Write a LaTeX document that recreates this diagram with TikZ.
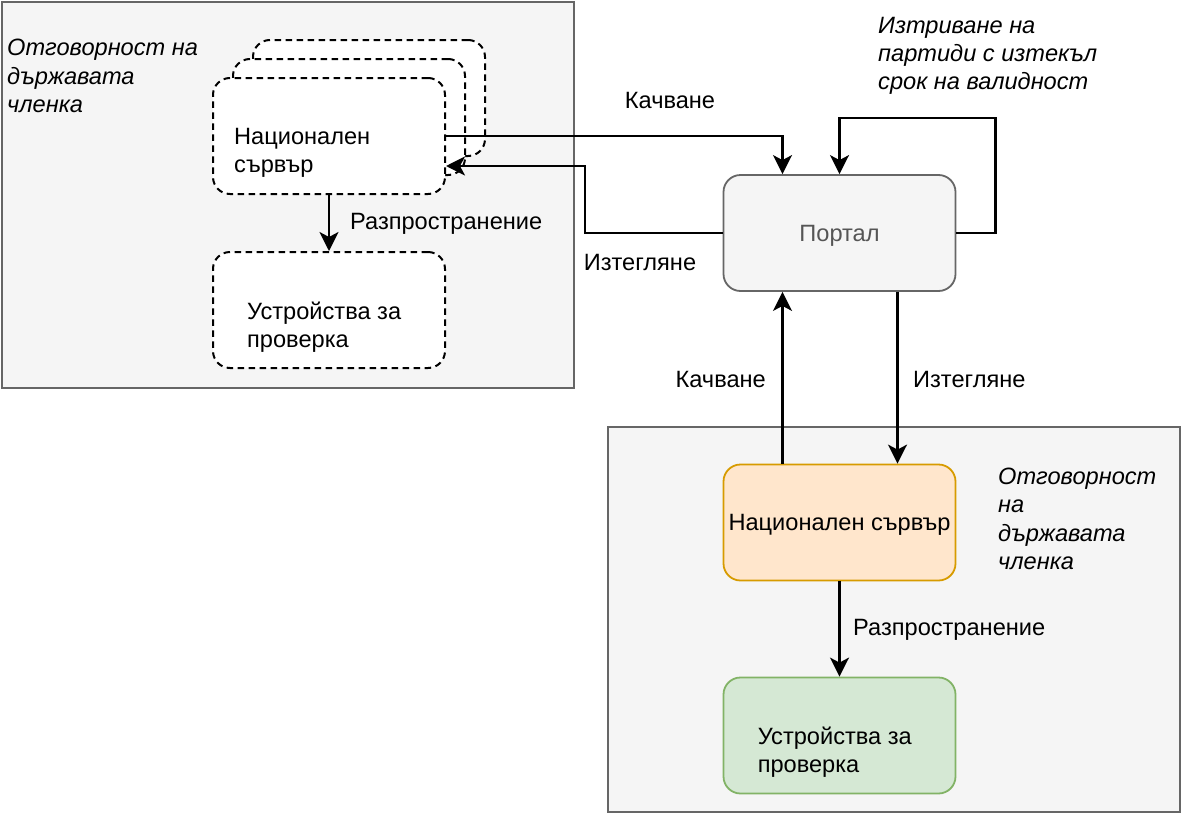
\documentclass[tikz,border=0pt]{standalone}
\usepackage{fontspec}
\setmainfont{Liberation Sans}
\usetikzlibrary{arrows.meta}

\definecolor{areafill}{HTML}{F5F5F5}
\definecolor{arealine}{HTML}{666666}
\definecolor{portaltxt}{HTML}{555555}
\definecolor{natfill}{HTML}{FFE6CC}
\definecolor{natline}{HTML}{D79B00}
\definecolor{devfill}{HTML}{D5E8D4}
\definecolor{devline}{HTML}{82B366}

\begin{document}
\begin{tikzpicture}[
  x=1pt, y=-1pt,
  every node/.style={font=\fontsize{23.6}{28.3}\selectfont},
  box/.style={rectangle, rounded corners=17pt, line width=1.8pt, minimum width=232pt, minimum height=116pt, inner sep=0pt, align=left},
  dbox/.style={box, draw=black, fill=white, line width=2pt, dash pattern=on 6.5pt off 4.5pt},
  area/.style={rectangle, draw=arealine, fill=areafill, line width=1.8pt, inner sep=0pt, anchor=north west},
  lbl/.style={inner sep=0pt, align=left},
  intxt/.style={lbl, anchor=west},
  note/.style={lbl, font=\fontsize{23.6}{28.3}\selectfont\itshape},
  arr/.style={line width=2.2pt, -{Stealth[length=19pt, width=19pt, inset=5pt]}}
]
\useasboundingbox (0,0) rectangle (1181,814);

% Areas
\node[area, minimum width=572pt, minimum height=386pt] (areaL) at (1,1) {};
\node[area, minimum width=572pt, minimum height=385pt] (areaR) at (607,426) {};

% Nodes
\node[dbox] (back) at (369,98) {};
\node[dbox] (mid)  at (349,117) {};
\node[dbox] (nsrv) at (329,136) {};
\node[intxt] (nsrvtxt) at ([xshift=22pt, yshift=-17pt]nsrv.west) {Национален\\сървър};
\node[dbox] (ndev) at (329,310) {};
\node[intxt] (ndevtxt) at ([xshift=35pt, yshift=-17pt]ndev.west) {Устройства за\\проверка};

\node[box, draw=arealine, fill=areafill, text=portaltxt, text depth=0pt] (portal) at (839.5,233) {Портал};
\node[box, draw=natline, fill=natfill, text depth=0pt] (nat) at (839.5,522.5) {Национален сървър};
\node[box, draw=devline, fill=devfill] (dev) at (839.5,735.5) {};
\node[intxt] (devtxt) at ([xshift=35pt, yshift=-17pt]dev.west) {Устройства за\\проверка};

% Notes
\node[note, anchor=west] (respL) at (7,76) {Отговорност на\\държавата\\членка};
\node[note, anchor=west] (respR) at (998,519) {Отговорност\\на\\държавата\\членка};
\node[note, anchor=west] (purge) at (878,56) {Изтриване на\\партиди с изтекъл\\срок на валидност};

% Edges: member state to portal
\draw[arr] (nsrv.east) -| ([xshift=-57pt]portal.north);
\draw[arr] (portal.west) -- ++(-138,0) |- ([yshift=-30pt]nsrv.east);
\draw[arr] (portal.east) -- ++(39,0) -- ++(0,-115) -| (portal.north);
\node[lbl] (upL) at (670,100) {Качване};
\node[lbl] (downL) at (640,262) {Изтегляне};

% Edges: portal to national server
\draw[arr] ([xshift=-57pt]nat.north) -- ([xshift=-57pt]portal.south);
\draw[arr] ([xshift=58pt]portal.south) -- ([xshift=58pt]nat.north);
\node[lbl, anchor=east] (upR) at (766,379) {Качване};
\node[lbl, anchor=west] (downR) at (913,379) {Изтегляне};

% Distribution
\draw[arr] (nsrv.south) -- (ndev.north);
\node[lbl, anchor=west] (distL) at (350,224) {Разпространение};
\draw[arr] (nat.south) -- (dev.north);
\node[lbl, anchor=west] (distR) at (853,630) {Разпространение};

\end{tikzpicture}
\end{document}
